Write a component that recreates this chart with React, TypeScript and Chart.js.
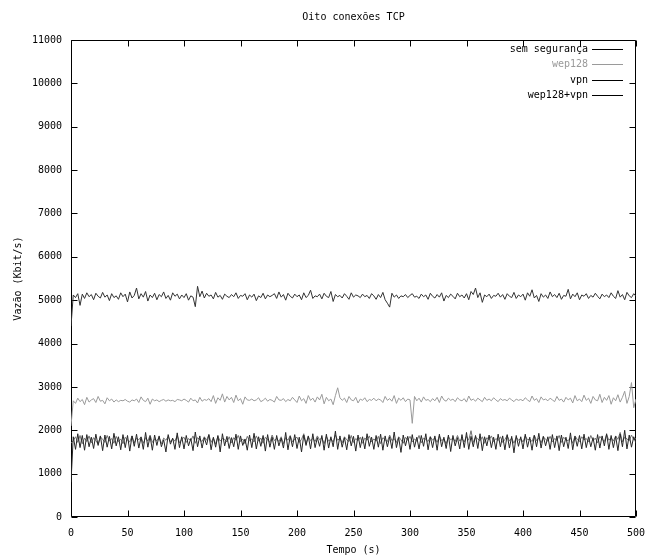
import { useEffect, useRef } from "react";
import { Chart, registerables } from "chart.js";

Chart.register(...registerables);

const TITLE = "Oito conexões TCP";
const X_TITLE = "Tempo (s)";
const Y_TITLE = "Vazão (Kbit/s)";
const SERIES_NAMES = ["sem segurança", "wep128", "vpn", "wep128+vpn"];
const SERIES_COLORS = ["#333333", "#9a9a9a", "#262626", "#707070"];
const LEGEND_TEXT_COLORS = ["#000000", "#9a9a9a", "#000000", "#000000"];
const LEGEND_LINE_COLORS = ["#000000", "#9a9a9a", "#000000", "#000000"];

const TIME_STEP_S = 2;
const X_MIN = 0;
const X_MAX = 500;
const X_TICK_STEP = 50;
const Y_MIN = 0;
const Y_MAX = 11000;
const Y_TICK_STEP = 1000;

const semSeguranca = [
  4400, 5120, 5060, 5150, 4880, 5140, 5040, 5170, 5080, 5130,
  5010, 5160, 5090, 5050, 5180, 5070, 5120, 4990, 5150, 5060,
  5100, 5020, 5170, 5080, 5140, 4960, 5190, 5050, 5110, 5280,
  5030, 5150, 5070, 5200, 4980, 5120, 5060, 5160, 5010, 5130,
  5080, 5190, 5040, 5110, 5000, 5170, 5090, 5140, 5030, 5120,
  5060, 5150, 5000, 5100, 5070, 4850, 5320, 5080, 5210, 5050,
  5160, 5090, 5120, 5030, 5180, 5070, 5110, 5020, 5140, 5090,
  5060, 5130, 5080, 5170, 5040, 5110, 5090, 5150, 5010, 5120,
  5070, 5140, 4990, 5100, 5060, 5160, 5030, 5120, 5080, 5110,
  5150, 5040, 5190, 5070, 5130, 5000, 5160, 5090, 5050, 5140,
  5080, 5120, 5010, 5170, 5060, 5110, 5230, 5040, 5100, 5080,
  5140, 5030, 5160, 5090, 5060, 5200, 4970, 5130, 5080, 5110,
  5050, 5150, 5090, 5020, 5170, 5070, 5120, 5100, 5060, 5140,
  5080, 5110, 5040, 5150, 5100, 5020, 5130, 5060, 5180, 5010,
  4930, 4840, 5160, 5070, 5120, 5040, 5100, 5080, 5130, 5060,
  5110, 5150, 5070, 5090, 5040, 5140, 5080, 5120, 5020, 5160,
  5090, 5050, 5130, 5070, 5170, 4980, 5110, 5060, 5140, 5090,
  5030, 5160, 5080, 5120, 5050, 5150, 5010, 5200, 5130, 5280,
  5060, 5170, 4950, 5120, 5080, 5140, 5040, 5110, 5090, 5160,
  5070, 5130, 5020, 5150, 5090, 5060, 5180, 5040, 5120, 5080,
  5140, 5000, 5170, 5090, 5240, 5050, 5110, 4970, 5150, 5070,
  5120, 5040, 5190, 5080, 5130, 5060, 5160, 5020, 5110, 5090,
  5250, 5030, 5140, 5080, 5170, 5010, 5120, 5090, 5150, 5040,
  5110, 5070, 5160, 5090, 5030, 5140, 5080, 5120, 5060, 5170,
  5090, 5040, 5220, 5070, 5130, 5010, 5180, 5100, 5060, 5150,
  5090,
];

const wep128 = [
  2100, 2680, 2620, 2740, 2660, 2710, 2590, 2760, 2650, 2700,
  2730, 2640, 2780, 2670, 2690, 2610, 2750, 2680, 2720, 2650,
  2700, 2660, 2690, 2680, 2710, 2670, 2650, 2700, 2680, 2720,
  2640, 2770, 2690, 2660, 2740, 2600, 2720, 2680, 2700, 2660,
  2690, 2710, 2670, 2700, 2680, 2690, 2660, 2710, 2700, 2680,
  2720, 2690, 2650, 2740, 2680, 2700, 2630, 2760, 2670, 2710,
  2690, 2730, 2660, 2800, 2620, 2750, 2690, 2840, 2650, 2780,
  2700, 2760, 2640, 2810, 2680, 2730, 2600, 2770, 2700, 2690,
  2720, 2680, 2700, 2750, 2660, 2690, 2740, 2670, 2710, 2690,
  2650, 2780, 2700, 2690, 2730, 2660, 2710, 2680, 2760, 2700,
  2640, 2790, 2680, 2730, 2620, 2800, 2690, 2740, 2650, 2770,
  2700, 2830, 2610, 2760, 2680, 2720, 2590, 2800, 2980, 2750,
  2690, 2740, 2640, 2780, 2700, 2680, 2760, 2630, 2720, 2690,
  2750, 2660, 2710, 2690, 2740, 2680, 2720, 2700, 2640, 2780,
  2690, 2730, 2670, 2800, 2620, 2740, 2690, 2750, 2660, 2720,
  2700, 2160, 2780, 2680, 2740, 2650, 2770, 2690, 2710, 2660,
  2730, 2680, 2760, 2640, 2790, 2700, 2670, 2740, 2690, 2720,
  2660, 2750, 2700, 2680, 2730, 2650, 2790, 2690, 2720, 2670,
  2740, 2700, 2660, 2760, 2690, 2720, 2680, 2750, 2700, 2660,
  2730, 2690, 2710, 2680, 2740, 2700, 2660, 2720, 2690, 2710,
  2680, 2750, 2700, 2660, 2790, 2690, 2730, 2640, 2770, 2700,
  2720, 2680, 2740, 2700, 2660, 2780, 2690, 2720, 2650, 2760,
  2700, 2740, 2630, 2800, 2680, 2720, 2660, 2810, 2690, 2740,
  2620, 2780, 2700, 2680, 2830, 2640, 2760, 2690, 2800, 2600,
  2750, 2680, 2820, 2650, 2760, 2900, 2620, 2780, 3100, 2520,
  2720,
];

const vpn = [
  800, 1850, 1560, 1920, 1600, 1880, 1540, 1900, 1620, 1840,
  1580, 1910, 1650, 1870, 1530, 1890, 1610, 1860, 1570, 1930,
  1640, 1850, 1550, 1900, 1600, 1880, 1520, 1870, 1630, 1910,
  1590, 1840, 1560, 1950, 1610, 1860, 1540, 1890, 1650, 1870,
  1620, 1780, 1500, 1900, 1680, 1820, 1560, 1940, 1600, 1850,
  1570, 1880, 1640, 1810, 1530, 1960, 1620, 1870, 1590, 1830,
  1660, 1900, 1550, 1840, 1610, 1880, 1500, 1920, 1640, 1860,
  1580, 1830, 1620, 1910, 1560, 1870, 1650, 1800, 1540, 1890,
  1600, 1930, 1570, 1850, 1630, 1880, 1520, 1900, 1610, 1840,
  1560, 1880, 1640, 1820, 1590, 1950, 1550, 1860, 1620, 1900,
  1580, 1840, 1500, 1890, 1650, 1870, 1570, 1920, 1600, 1830,
  1630, 1880, 1540, 1910, 1590, 1850, 1620, 1980, 1560, 1870,
  1610, 1830, 1550, 1900, 1640, 1860, 1520, 1890, 1600, 1850,
  1570, 1920, 1630, 1840, 1560, 1880, 1610, 1910, 1540, 1870,
  1620, 1850, 1580, 1960, 1600, 1830, 1490, 1890, 1640, 1860,
  1560, 1900, 1610, 1840, 1570, 1880, 1630, 1920, 1550, 1850,
  1600, 1870, 1540, 1910, 1620, 1840, 1580, 1890, 1510, 1880,
  1640, 1830, 1570, 1900, 1600, 1950, 1560, 1860, 1620, 1880,
  1580, 1920, 1530, 1850, 1640, 1890, 1600, 1840, 1560, 1910,
  1620, 1870, 1550, 1900, 1590, 1860, 1480, 1880, 1630, 1850,
  1570, 1910, 1610, 1840, 1540, 1880, 1620, 1930, 1590, 1860,
  1640, 1850, 1560, 1900, 1600, 1870, 1530, 1890, 1620, 1840,
  1580, 1940, 1550, 1860, 1630, 1880, 1570, 1910, 1600, 1850,
  1620, 1830, 1540, 1900, 1590, 1870, 1640, 1920, 1560, 1880,
  1600, 1860, 1530, 1910, 1620, 2000, 1570, 1890, 1610, 1850,
  1700,
];

const wep128Vpn = [
  1700, 1760, 1850, 1720, 1880, 1690, 1820, 1740, 1870, 1710,
  1830, 1760, 1680, 1850, 1790, 1720, 1880, 1750, 1810, 1700,
  1860, 1740, 1800, 1690, 1840, 1770, 1730, 1870, 1710, 1820,
  1780, 1850, 1700, 1830, 1750, 1890, 1720, 1800, 1760, 1840,
  1690, 1820, 1770, 1860, 1730, 1800, 1750, 1880, 1710, 1790,
  1840, 1720, 1810, 1760, 1870, 1700, 1830, 1780, 1740, 1850,
  1770, 1900, 1720, 1820, 1680, 1860, 1750, 1810, 1790, 1730,
  1850, 1710, 1830, 1770, 1880, 1740, 1800, 1690, 1860, 1760,
  1800, 1730, 1870, 1750, 1820, 1700, 1840, 1780, 1720, 1890,
  1760, 1810, 1740, 1850, 1690, 1830, 1770, 1880, 1730, 1800,
  1840, 1720, 1790, 1920, 1700, 1850, 1760, 1810, 1740, 1870,
  1780, 1830, 1690, 1860, 1750, 1800, 1730, 1890, 1770, 1820,
  1710, 1850, 1780, 1740, 1880, 1720, 1810, 1760, 1840, 1700,
  1820, 1770, 1870, 1730, 1800, 1750, 1860, 1690, 1830, 1780,
  1740, 1890, 1760, 1810, 1720, 1850, 1780, 1700, 1840, 1770,
  1860, 1730, 1800, 1750, 1880, 1710, 1820, 1790, 1740, 1850,
  1770, 1830, 1720, 1870, 1760, 1800, 1690, 1850, 1780, 1820,
  1740, 1880, 1750, 1810, 1730, 1860, 1770, 1990, 1720, 1840,
  1800, 1760, 1850, 1700, 1830, 1780, 1870, 1740, 1810, 1760,
  1850, 1720, 1790, 1880, 1750, 1820, 1700, 1840, 1770, 1810,
  1730, 1870, 1780, 1800, 1740, 1890, 1760, 1820, 1710, 1850,
  1790, 1750, 1860, 1730, 1810, 1770, 1880, 1720, 1840, 1780,
  1760, 1830, 1700, 1870, 1790, 1740, 1850, 1780, 1810, 1730,
  1880, 1760, 1820, 1710, 1860, 1790, 1740, 1900, 1770, 1830,
  1750, 1870, 1790, 1950, 1730, 1840, 1800, 1760, 1890, 1780,
  1810,
];

const SERIES_VALUES = [semSeguranca, wep128, vpn, wep128Vpn];

const FONT_FAMILY = "'DejaVu Sans Mono', monospace";
const FONT_SIZE = 10;
const TICK_LEN = 6;

const framePlugin = {
  id: "gnuplotFrame",
  beforeDatasetsDraw(chart: any) {
    const { ctx, chartArea, scales } = chart;
    const l = Math.round(chartArea.left) + 0.5;
    const r = Math.round(chartArea.right) - 0.5;
    const t = Math.round(chartArea.top) + 0.5;
    const b = Math.round(chartArea.bottom) - 0.5;
    ctx.save();
    ctx.strokeStyle = "#000";
    ctx.lineWidth = 1;
    ctx.beginPath();
    ctx.rect(l, t, r - l, b - t);
    for (const tk of scales.x.ticks) {
      const px = Math.round(scales.x.getPixelForValue(tk.value)) + 0.5;
      ctx.moveTo(px, b);
      ctx.lineTo(px, b - TICK_LEN);
      ctx.moveTo(px, t);
      ctx.lineTo(px, t + TICK_LEN);
    }
    for (const tk of scales.y.ticks) {
      const py = Math.round(scales.y.getPixelForValue(tk.value)) + 0.5;
      ctx.moveTo(l, py);
      ctx.lineTo(l + TICK_LEN, py);
      ctx.moveTo(r, py);
      ctx.lineTo(r - TICK_LEN, py);
    }
    ctx.stroke();
    ctx.restore();
  },
};

const titleAndLegendPlugin = {
  id: "gnuplotTitleLegend",
  afterDatasetsDraw(chart: any) {
    const { ctx, chartArea } = chart;
    ctx.save();
    ctx.font = `${FONT_SIZE}px ${FONT_FAMILY}`;
    ctx.textBaseline = "middle";
    ctx.textAlign = "center";
    ctx.fillStyle = "#000";
    ctx.fillText(TITLE, (chartArea.left + chartArea.right) / 2, 17);
    ctx.textAlign = "right";
    chart.data.datasets.forEach((ds: any, i: number) => {
      const y = Math.round(chartArea.top + 9 + i * 15.3);
      const lineEnd = chartArea.right - 13;
      const lineStart = lineEnd - 31;
      ctx.fillStyle = LEGEND_TEXT_COLORS[i];
      ctx.fillText(ds.label, lineStart - 4, y);
      ctx.strokeStyle = LEGEND_LINE_COLORS[i];
      ctx.lineWidth = 1;
      ctx.beginPath();
      ctx.moveTo(lineStart, y + 0.5);
      ctx.lineTo(lineEnd, y + 0.5);
      ctx.stroke();
    });
    ctx.restore();
  },
};

export default function App() {
  const canvasRef = useRef<HTMLCanvasElement | null>(null);

  useEffect(() => {
    const canvas = canvasRef.current;
    if (!canvas) return;
    const font = { family: FONT_FAMILY, size: FONT_SIZE };
    const datasets = SERIES_NAMES.map((name, i) => ({
      label: name,
      data: SERIES_VALUES[i].map((v, k) => ({ x: k * TIME_STEP_S, y: v })),
      borderColor: SERIES_COLORS[i],
      borderWidth: 1,
      pointRadius: 0,
      tension: 0,
      fill: false,
    }));
    const chart = new Chart(canvas, {
      type: "line",
      data: { datasets },
      options: {
        animation: false,
        responsive: false,
        devicePixelRatio: 1,
        layout: { padding: { left: 0, right: 0, top: 40, bottom: 0 } },
        plugins: {
          legend: { display: false },
          tooltip: { enabled: false },
          title: { display: false },
        },
        scales: {
          x: {
            type: "linear",
            min: X_MIN,
            max: X_MAX,
            grid: { display: false, drawTicks: false },
            border: { display: false },
            ticks: {
              stepSize: X_TICK_STEP,
              color: "#000",
              font,
              padding: 10,
              maxRotation: 0,
              callback: (v: any) => String(v),
            },
            title: { display: true, text: X_TITLE, color: "#000", font, padding: { top: 0, bottom: 4 } },
            afterFit: (scale: any) => {
              scale.height = 43;
              scale.paddingRight = 9;
              scale.paddingLeft = 0;
            },
          },
          y: {
            type: "linear",
            min: Y_MIN,
            max: Y_MAX,
            grid: { display: false, drawTicks: false },
            border: { display: false },
            ticks: {
              stepSize: Y_TICK_STEP,
              color: "#000",
              font,
              padding: 9,
              callback: (v: any) => String(v),
            },
            title: { display: true, text: Y_TITLE, color: "#000", font, padding: { top: 12, bottom: 0 } },
            afterFit: (scale: any) => {
              scale.width = 71;
            },
          },
        },
      },
      plugins: [framePlugin, titleAndLegendPlugin],
    } as any);
    return () => chart.destroy();
  }, []);

  return (
    <div style={{ position: "fixed", left: 0, top: 0, width: 645, height: 560, background: "#fff" }}>
      <canvas ref={canvasRef} width={645} height={560} style={{ display: "block" }} />
    </div>
  );
}
